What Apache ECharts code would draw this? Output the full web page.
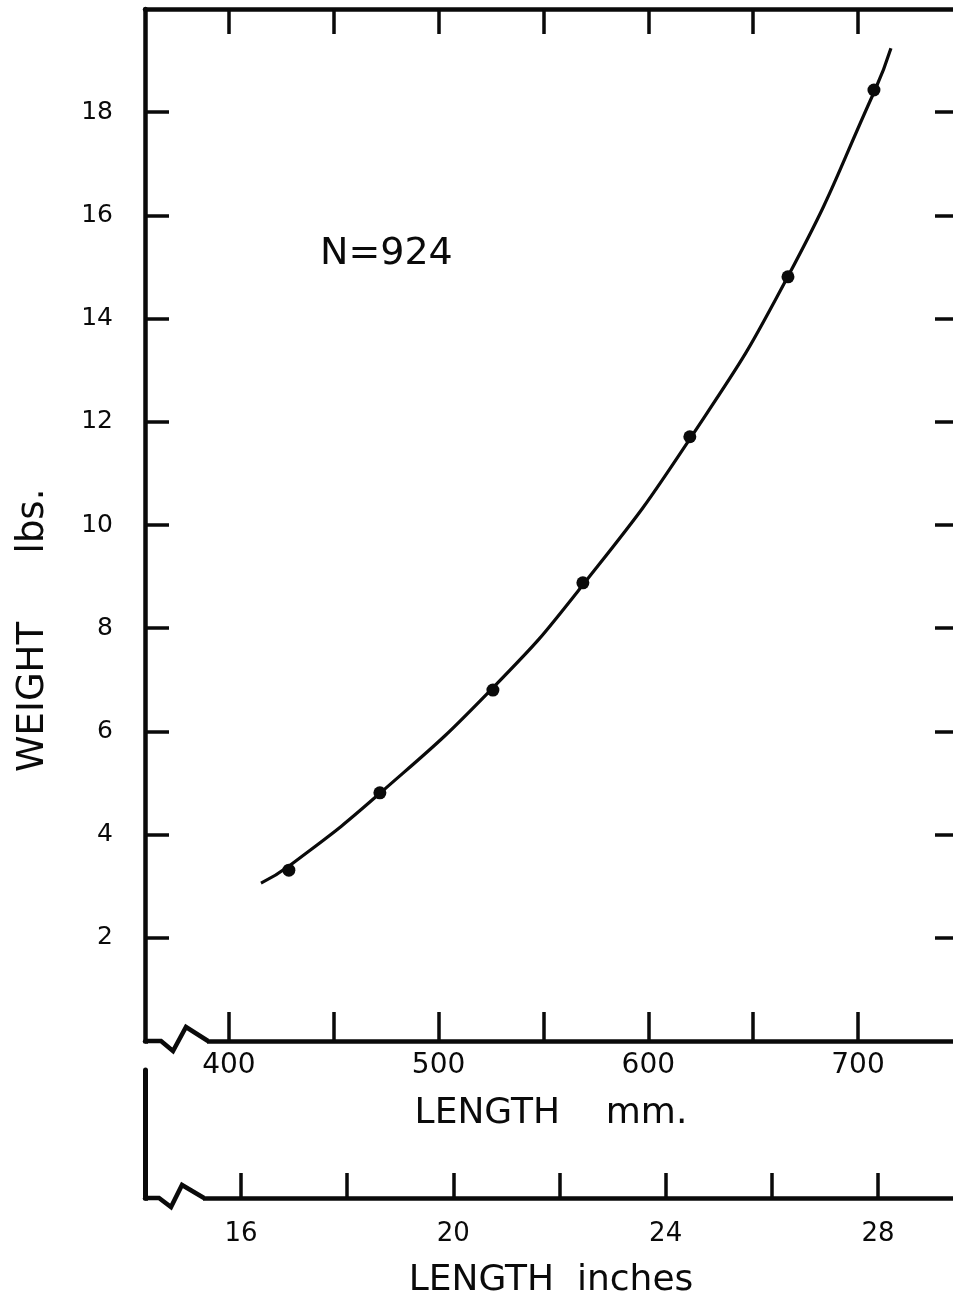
<!DOCTYPE html>
<html><head><meta charset="utf-8">
<script src="https://cdn.jsdelivr.net/npm/echarts/dist/echarts.min.js"></script>
<style>html,body{margin:0;padding:0;background:#fff}#c{width:953px;height:1302px}</style>
</head><body><div id="c"></div>
<script>
// Observed mean weights (dots)
const lengthMm = [428.6, 472.0, 525.9, 568.8, 619.8, 666.6, 707.6];
const weightLb = [3.31, 4.81, 6.80, 8.88, 11.71, 14.81, 18.43];
// Fitted curve
const curveMm = [415.3, 429.0, 472.0, 526.0, 569.0, 620.0, 667.0, 708.0, 715.7];
const curveLb = [3.06, 3.40, 4.80, 6.85, 8.85, 11.68, 14.85, 18.42, 19.24];
// Axes
const mmTicks = [400, 450, 500, 550, 600, 650, 700];
const mmLabels = [400, 500, 600, 700];
const inchTicks = [16, 18, 20, 22, 24, 26, 28];
const inchLabels = [16, 20, 24, 28];
const lbTicks = [2, 4, 6, 8, 10, 12, 14, 16, 18];
const noteText = 'N=924';

const FONT = 'DejaVu Sans';
const G0 = {left: 145, top: 9, width: 812, height: 1032};
const G1 = {left: 145, top: 1070, width: 812, height: 128};
const black = '#0a0a0a';
const AXW = 4.5, TKW = 3.5;

const chart = echarts.init(document.getElementById('c'), null, {renderer: 'canvas'});

function mmAxis(pos, showLabels, tickLen) {
  return {
    type: 'value', gridIndex: 0, position: pos, min: 360, max: 747.2,
    axisLine: {show: true, onZero: false, lineStyle: {color: black, width: AXW}},
    axisTick: {show: true, inside: true, length: tickLen, customValues: mmTicks, lineStyle: {color: black, width: TKW}},
    axisLabel: {show: showLabels, customValues: mmLabels, margin: 11, fontSize: 28, fontFamily: FONT, color: black},
    splitLine: {show: false}
  };
}
function lbAxis(pos, showLabels, tickLen) {
  return {
    type: 'value', gridIndex: 0, position: pos, min: 0, max: 20,
    axisLine: {show: true, onZero: false, lineStyle: {color: black, width: AXW}},
    axisTick: {show: true, inside: true, length: tickLen, customValues: lbTicks, lineStyle: {color: black, width: TKW}},
    axisLabel: {show: showLabels, customValues: lbTicks, margin: 32, fontSize: 25, fontFamily: FONT, color: black},
    splitLine: {show: false}
  };
}

const xm = mmAxis('bottom', true, 29);
xm.name = 'LENGTH    mm.';
xm.nameLocation = 'middle';
xm.nameGap = 55;
xm.nameTextStyle = {fontSize: 36, fontFamily: FONT, color: black};

const option = {
  backgroundColor: '#fff',
  animation: false,
  grid: [
    Object.assign({containLabel: false, outerBoundsMode: 'none'}, G0),
    Object.assign({containLabel: false, outerBoundsMode: 'none'}, G1)
  ],
  xAxis: [
    xm,
    mmAxis('top', false, 25),
    {
      type: 'value', gridIndex: 1, position: 'bottom', min: 14.19, max: 29.49,
      axisLine: {show: true, onZero: false, lineStyle: {color: black, width: AXW}},
      axisTick: {show: true, inside: true, length: 25, customValues: inchTicks, lineStyle: {color: black, width: TKW}},
      axisLabel: {customValues: inchLabels, margin: 23, fontSize: 26, fontFamily: FONT, color: black},
      splitLine: {show: false},
      name: 'LENGTH  inches', nameLocation: 'middle', nameGap: 65,
      nameTextStyle: {fontSize: 36, fontFamily: FONT, color: black}
    }
  ],
  yAxis: [
    lbAxis('left', true, 24),
    lbAxis('right', false, 22),
    {
      type: 'value', gridIndex: 1, position: 'left', min: 0, max: 1,
      axisLine: {show: true, onZero: false, lineStyle: {color: black, width: AXW + 0.5}},
      axisTick: {show: false}, axisLabel: {show: false}, splitLine: {show: false}
    }
  ],
  series: [
    {
      type: 'line', xAxisIndex: 0, yAxisIndex: 0,
      data: curveMm.map((m, i) => [m, curveLb[i]]),
      smooth: 0.5, showSymbol: false,
      lineStyle: {color: black, width: 3.2}, z: 3
    },
    {
      type: 'scatter', xAxisIndex: 0, yAxisIndex: 0,
      data: lengthMm.map((m, i) => [m, weightLb[i]]),
      symbol: 'circle', symbolSize: 13,
      itemStyle: {color: black, opacity: 1}, z: 4
    }
  ]
};
chart.setOption(option);

// Axis breaks and free text
const y0 = G0.top + G0.height;
const y1 = G1.top + G1.height;
const L = G0.left;
function brk(yb, pts) {
  return [
    {type: 'rect', z: 100, shape: {x: L + 3, y: yb - 6, width: pts[4][0] - L - 4, height: 12}, style: {fill: '#fff'}},
    {type: 'polyline', z: 101, shape: {points: pts}, style: {stroke: black, lineWidth: AXW, fill: null, lineJoin: 'miter'}}
  ];
}
chart.setOption({
  graphic: [
    ...brk(y0, [[L, y0], [L + 16, y0], [L + 28, y0 + 10], [L + 41, y0 - 14], [L + 63, y0]]),
    ...brk(y1, [[L, y1], [L + 14, y1], [L + 26, y1 + 9], [L + 37, y1 - 13], [L + 59, y1]]),
    {type: 'text', z: 100, x: 320, y: 254, style: {text: noteText, fontSize: 38, fontFamily: FONT, fill: black, textAlign: 'left', textVerticalAlign: 'middle'}},
    {type: 'text', z: 100, x: 33, y: 697, rotation: Math.PI / 2, style: {text: 'WEIGHT', fontSize: 37, fontFamily: FONT, fill: black, textAlign: 'center', textVerticalAlign: 'middle'}},
    {type: 'text', z: 100, x: 33, y: 521, rotation: Math.PI / 2, style: {text: 'lbs.', fontSize: 37, fontFamily: FONT, fill: black, textAlign: 'center', textVerticalAlign: 'middle'}}
  ]
});
</script>
</body></html>
